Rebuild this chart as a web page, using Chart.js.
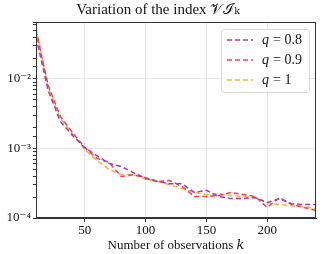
<!DOCTYPE html>
<html>
<head>
<meta charset="utf-8">
<script src="https://cdn.jsdelivr.net/npm/chart.js@4/dist/chart.umd.min.js"></script>
<style>
  html, body { margin: 0; padding: 0; background: #fff; }
  #wrap { width: 327px; height: 254px; }
</style>
</head>
<body>
<div id="wrap"><canvas id="vi"></canvas></div>
<script>
// --- data ---
const ks = [10, 20, 30, 40, 50, 60, 70, 80, 90, 100, 110, 120, 130, 140, 150, 160, 170, 180, 190, 200, 210, 220, 230, 240];
const q08 = [0.040, 6.8e-3, 2.45e-3, 1.54e-3, 1.03e-3, 0.79e-3, 0.61e-3, 0.55e-3, 0.45e-3, 0.37e-3, 0.335e-3, 0.31e-3, 0.31e-3, 0.233e-3, 0.25e-3, 0.204e-3, 0.19e-3, 0.19e-3, 0.197e-3, 0.167e-3, 0.19e-3, 0.16e-3, 0.156e-3, 0.156e-3];
const q09 = [0.050, 8.1e-3, 2.9e-3, 1.7e-3, 1.03e-3, 0.72e-3, 0.63e-3, 0.395e-3, 0.42e-3, 0.38e-3, 0.335e-3, 0.345e-3, 0.284e-3, 0.204e-3, 0.204e-3, 0.21e-3, 0.233e-3, 0.218e-3, 0.204e-3, 0.142e-3, 0.197e-3, 0.156e-3, 0.142e-3, 0.128e-3];
const q10 = [0.055, 7.5e-3, 2.7e-3, 1.64e-3, 0.97e-3, 0.67e-3, 0.50e-3, 0.42e-3, 0.42e-3, 0.36e-3, 0.335e-3, 0.30e-3, 0.266e-3, 0.233e-3, 0.218e-3, 0.225e-3, 0.21e-3, 0.204e-3, 0.197e-3, 0.167e-3, 0.156e-3, 0.15e-3, 0.146e-3, 0.137e-3];
const seriesNames = ['0.8', '0.9', '1'];
const xTicks = [50, 100, 150, 200];
const yMajor = [1e-4, 1e-3, 1e-2];
const yLabels = ['10\u207B\u2074', '10\u207B\u00B3', '10\u207B\u00B2'];

const colors = ['#a43cb0', '#f5424f', '#fbb03b'];
const serif = '"Liberation Serif", "DejaVu Serif", serif';

function pts(arr) {
    return ks.map((k, i) => ({ x: k, y: arr[i] }));
}

function isMajor(v) {
    return yMajor.some(m => Math.abs(v / m - 1) < 1e-6);
}

// frame round the plot (top/right too, like matplotlib)
const framePlugin = {
    id: 'frame',
    afterDatasetsDraw(chart) {
        const a = chart.chartArea, c = chart.ctx;
        c.save();
        c.strokeStyle = '#333';
        c.lineWidth = 1;
        c.strokeRect(a.left + 0.5, a.top + 0.5, a.right - a.left - 1, a.bottom - a.top - 1);
        c.restore();
    }
};

// legend box in the upper right corner of the plot
const legendPlugin = {
    id: 'boxLegend',
    afterDraw(chart) {
        const a = chart.chartArea, c = chart.ctx;
        const w = 88, h = 63;
        const x0 = a.right - 7 - w, y0 = a.top + 7;
        c.save();
        c.fillStyle = 'rgba(255,255,255,0.85)';
        c.strokeStyle = '#d8d8d8';
        c.lineWidth = 1;
        c.beginPath();
        c.roundRect(x0 + 0.5, y0 + 0.5, w, h, 3);
        c.fill();
        c.stroke();
        chart.data.datasets.forEach((ds, i) => {
            const y = y0 + 11 + i * 20;
            c.strokeStyle = ds.borderColor;
            c.lineWidth = 1.5;
            c.setLineDash(ds.borderDash);
            c.beginPath();
            c.moveTo(x0 + 6, y);
            c.lineTo(x0 + 32, y);
            c.stroke();
            c.setLineDash([]);
            c.fillStyle = '#111';
            c.textBaseline = 'middle';
            c.font = 'italic 14px ' + serif;
            c.fillText('q', x0 + 41, y);
            c.font = '14px ' + serif;
            c.fillText('= ' + seriesNames[i], x0 + 52, y);
        });
        c.restore();
    }
};

new Chart(document.getElementById('vi'), {
    type: 'line',
    data: {
        datasets: [
            { label: 'q = 0.8', data: pts(q08), borderColor: colors[0] },
            { label: 'q = 0.9', data: pts(q09), borderColor: colors[1] },
            { label: 'q = 1', data: pts(q10), borderColor: colors[2] }
        ].map(d => Object.assign(d, {
            borderWidth: 1.5,
            borderDash: [5, 3],
            pointRadius: 0,
            fill: false,
            tension: 0
        }))
    },
    options: {
        responsive: true,
        maintainAspectRatio: false,
        animation: false,
        layout: { padding: { right: 11, left: 0, top: 0, bottom: 0 } },
        plugins: {
            legend: { display: false },
            tooltip: { enabled: false },
            title: {
                display: true,
                text: 'Variation of the index \uD835\uDCB1\u2110\u2096',
                color: '#111',
                font: { family: serif, size: 15, weight: 'normal' },
                padding: { top: 1, bottom: 3 }
            }
        },
        scales: {
            x: {
                type: 'linear',
                min: 10,
                max: 240,
                afterBuildTicks: s => { s.ticks = xTicks.map(v => ({ value: v })); },
                afterFit: s => { s.height = 36; },
                grid: { color: '#e6e6e6', drawTicks: true, tickLength: 4, tickColor: '#333' },
                border: { color: '#333' },
                ticks: { color: '#111', font: { family: serif, size: 13 }, padding: 1, maxRotation: 0 },
                title: {
                    display: true,
                    text: 'Number of observations \uD835\uDC58',
                    color: '#111',
                    font: { family: serif, size: 13 },
                    padding: { top: 0, bottom: 1 }
                }
            },
            y: {
                type: 'logarithmic',
                min: 1e-4,
                max: 0.066,
                afterFit: s => { s.width = 36; },
                grid: {
                    color: ctx => (ctx.tick && isMajor(ctx.tick.value)) ? '#e6e6e6' : 'rgba(0,0,0,0)',
                    tickColor: '#333',
                    tickLength: 3
                },
                border: { color: '#333' },
                ticks: {
                    color: '#111',
                    font: { family: serif, size: 13 },
                    padding: 2,
                    autoSkip: false,
                    callback: v => {
                        const i = yMajor.findIndex(m => Math.abs(v / m - 1) < 1e-6);
                        return i >= 0 ? yLabels[i] : '';
                    }
                }
            }
        }
    },
    plugins: [framePlugin, legendPlugin]
});
</script>
</body>
</html>
